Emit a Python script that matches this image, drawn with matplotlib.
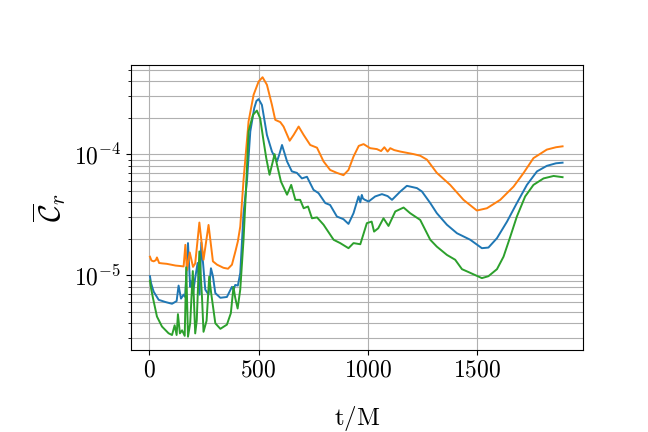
import matplotlib
matplotlib.use("Agg")
import matplotlib.pyplot as plt

plt.rcParams['mathtext.fontset'] = 'cm'
plt.rcParams['font.family'] = 'serif'
plt.rcParams['font.serif'] = ['cmr10', 'DejaVu Serif']
plt.rcParams['axes.formatter.use_mathtext'] = True

# blue curve
t_blue = [3, 8, 20, 43, 73, 104, 125, 134, 145, 157, 164, 172, 177, 187, 192, 199, 210,
          221, 230, 238, 256, 271, 282, 291, 302, 325, 355, 378, 386, 393, 405, 416, 431, 447,
          462, 480, 490, 500, 515, 538, 561, 584, 595, 607, 630, 652, 675, 698, 721, 751, 774,
          805, 827, 858, 888, 911, 934, 957, 965, 972, 977, 985, 1003, 1033, 1064, 1090, 1110,
          1148, 1178, 1224, 1247, 1285, 1315, 1361, 1407, 1468, 1521, 1551, 1590, 1636,
          1681, 1727, 1773, 1818, 1860, 1890]
c_blue = [9.8e-6, 8.6e-6, 7.3e-6, 6.25e-6, 6.0e-6, 5.8e-6, 6.1e-6, 8.2e-6, 6.4e-6, 6.9e-6,
          6.6e-6, 1.2e-5, 1.84e-5, 8.0e-6, 8.9e-6, 6.9e-6, 9.5e-6,
          1.26e-5, 6.9e-6, 1.86e-5, 7.6e-6, 6.9e-6, 1.14e-5, 9.8e-6, 7.1e-6, 6.5e-6, 6.6e-6,
          8.0e-6, 7.6e-6, 8.3e-6, 8.2e-6, 1.04e-5, 3.25e-5, 6.1e-5,
          1.54e-4, 2.4e-4, 2.75e-4, 2.85e-4, 2.55e-4, 1.44e-4, 1.05e-4, 8.7e-5, 1.0e-4, 1.19e-4,
          8.7e-5, 7.2e-5, 7.0e-5, 6.3e-5, 6.5e-5, 5.07e-5, 4.76e-5,
          3.94e-5, 3.8e-5, 3.05e-5, 2.9e-5, 2.65e-5, 3.25e-5, 4.47e-5, 4.0e-5, 4.6e-5, 4.3e-5,
          4.2e-5, 4.06e-5, 4.47e-5, 4.67e-5, 4.5e-5, 4.19e-5,
          4.91e-5, 5.47e-5, 5.24e-5, 4.91e-5, 3.94e-5, 3.25e-5, 2.61e-5, 2.22e-5, 1.96e-5,
          1.67e-5, 1.69e-5, 2.02e-5, 2.77e-5,
          3.94e-5, 5.57e-5, 7.2e-5, 8.0e-5, 8.4e-5, 8.5e-5]

# orange curve
t_orange = [3, 10, 20, 30, 35, 45, 60, 80, 100, 120, 140, 157, 165, 172, 185, 200, 210, 229,
            248, 271, 291, 310, 339, 360, 378, 395, 405, 416, 431, 454, 477, 500, 518, 538,
            561, 576, 599, 614, 642, 660, 683, 706, 736, 767, 797, 827, 858, 888, 911, 934,
            958, 980, 1010, 1041, 1060, 1075, 1090, 1102, 1120, 1148, 1209, 1239, 1270, 1315,
            1376, 1437, 1498, 1544, 1605, 1666, 1712, 1757, 1818, 1860, 1890]
c_orange = [1.42e-5, 1.32e-5, 1.3e-5, 1.33e-5, 1.4e-5, 1.26e-5, 1.25e-5, 1.24e-5, 1.22e-5,
            1.2e-5, 1.19e-5, 1.18e-5, 1.78e-5, 1.1e-5, 1.54e-5, 1.17e-5, 1.25e-5, 2.72e-5,
            1.34e-5, 2.6e-5, 1.3e-5, 1.22e-5, 1.15e-5, 1.13e-5, 1.22e-5, 1.6e-5, 1.9e-5,
            2.52e-5, 6.1e-5, 1.86e-4, 3.09e-4, 3.98e-4, 4.32e-4, 3.74e-4,
            2.55e-4, 1.92e-4, 1.84e-4, 1.69e-4, 1.29e-4, 1.44e-4, 1.69e-4, 1.44e-4, 1.19e-4,
            1.13e-4, 8.7e-5, 7.4e-5, 7.0e-5, 6.7e-5, 7.4e-5, 9.55e-5,
            1.17e-4, 1.21e-4, 1.12e-4, 1.1e-4, 1.06e-4, 1.14e-4, 1.05e-4, 1.12e-4, 1.08e-4,
            1.05e-4, 1.0e-4, 9.7e-5, 9.0e-5, 7.0e-5,
            5.57e-5, 4.19e-5, 3.42e-5, 3.57e-5, 4.19e-5, 5.39e-5, 7.0e-5, 9.27e-5, 1.09e-4,
            1.14e-4, 1.16e-4]

# green curve
t_green = [3, 8, 17, 35, 58, 88, 104, 116, 125, 131, 140, 150, 162, 169, 177, 187, 199, 210,
           217, 229, 241, 248, 262, 274, 283, 302, 325, 355, 373, 385, 393, 404, 416, 431,
           443, 454, 474, 492, 507, 523, 535, 550, 565, 573, 584, 602, 630, 649, 668, 690,
           706, 726, 744, 767, 797, 843, 873, 911, 934, 965, 995, 1017, 1028, 1047, 1071,
           1094, 1125, 1163, 1193, 1239, 1285, 1315, 1361, 1399, 1430, 1460, 1521, 1551,
           1590, 1620, 1651, 1681, 1719, 1757, 1803, 1849, 1890]
c_green = [9.0e-6, 7.8e-6, 6.45e-6, 4.55e-6, 3.76e-6, 3.31e-6, 3.2e-6, 3.85e-6, 3.2e-6,
           4.76e-6, 3.3e-6, 3.5e-6, 3.15e-6, 1.16e-5, 3.1e-6, 4.0e-6, 1.08e-5, 3.3e-6,
           4.2e-6, 1.57e-5, 6.6e-6, 3.4e-6, 4.2e-6, 9.7e-6, 7.1e-6, 4.0e-6, 3.6e-6, 3.9e-6,
           4.85e-6, 8.0e-6, 6.5e-6, 5.3e-6, 7.6e-6, 1.96e-5,
           5.4e-5, 1.54e-4, 2.11e-4, 2.29e-4, 1.98e-4, 1.27e-4, 9.25e-5, 6.75e-5, 8.7e-5,
           1.0e-4, 8.2e-5, 5.94e-5, 4.62e-5, 5.57e-5, 4.19e-5, 4.19e-5,
           3.57e-5, 3.69e-5, 2.95e-5, 3.0e-5, 2.61e-5, 1.96e-5, 1.84e-5, 1.67e-5, 1.84e-5,
           1.8e-5, 2.69e-5, 2.77e-5, 2.29e-5, 2.44e-5, 2.95e-5,
           2.55e-5, 3.36e-5, 3.62e-5, 3.25e-5, 2.86e-5, 1.96e-5, 1.72e-5, 1.47e-5, 1.34e-5,
           1.12e-5, 1.06e-5, 9.45e-6, 9.8e-6,
           1.12e-5, 1.42e-5, 2.08e-5, 3.05e-5, 4.47e-5, 5.57e-5, 6.3e-5, 6.6e-5, 6.45e-5]

fig = plt.figure(figsize=(6.48, 4.32), dpi=100)
ax = fig.add_axes([0.2017, 0.19, 0.6985, 0.6595])
ax.plot(t_blue, c_blue, color='C0', lw=1.4)
ax.plot(t_orange, c_orange, color='C1', lw=1.4)
ax.plot(t_green, c_green, color='C2', lw=1.4)
ax.set_yscale('log')
ax.set_xlim(-85, 1985)
ax.set_ylim(2.41e-6, 5.45e-4)
ax.grid(True, which='both')
ax.set_xticks([0, 500, 1000, 1500])
ax.tick_params(labelsize=17)
ax.set_xlabel(r'$\mathrm{t/M}$', fontsize=18, labelpad=16)
ax.set_ylabel(r'$\overline{\mathcal{C}}_r$', fontsize=22, labelpad=4)
fig.savefig('out.png', dpi=100)
